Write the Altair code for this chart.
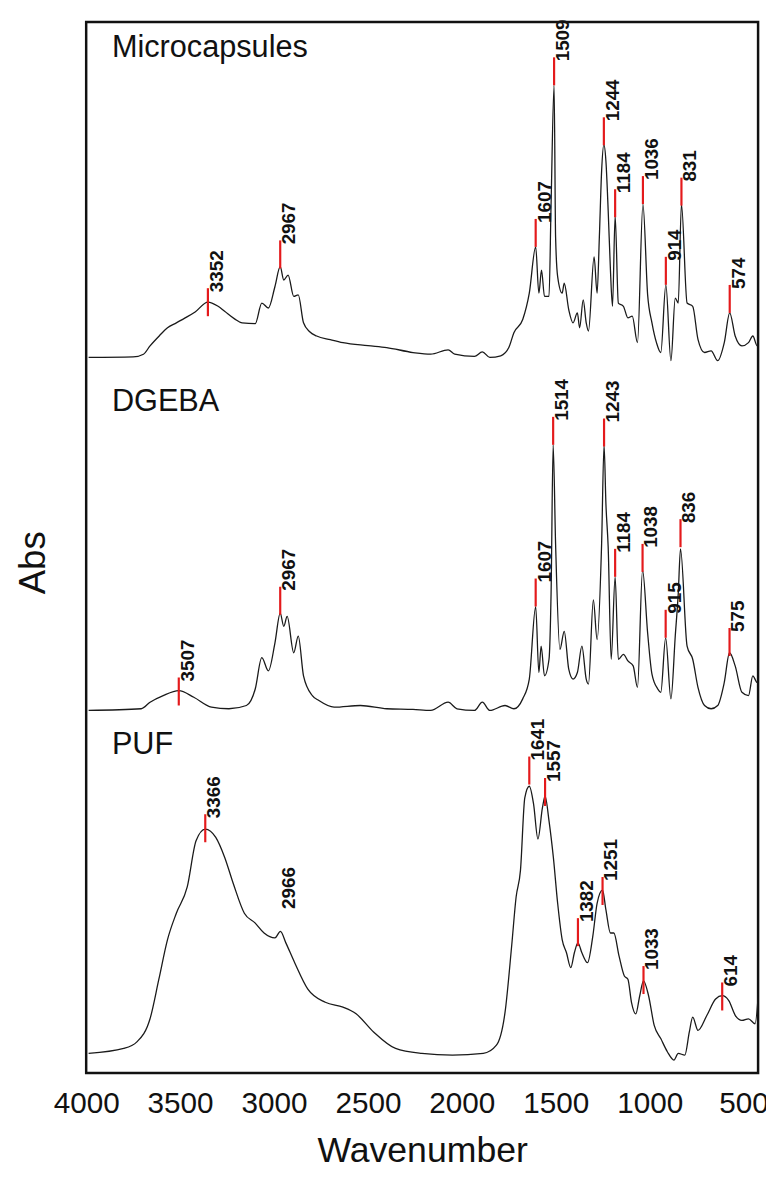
import altair as alt
import pandas as pd

# ---------------- spectra (wavenumber, absorbance in arbitrary units) ----------------
MC_WN = [3987, 3750, 3695, 3660, 3610, 3567, 3520, 3473, 3420, 3352, 3300, 3263, 3210, 3170, 3100, 3065, 3030,
         2995, 2967, 2948, 2925, 2895, 2871, 2843, 2810, 2773, 2700, 2633, 2500, 2400, 2260, 2166, 2073, 2038,
         1933, 1891, 1851, 1793, 1750, 1723, 1676, 1641, 1607, 1590, 1576, 1560, 1536, 1525, 1509, 1501,
         1490, 1466, 1455, 1431, 1408, 1385, 1373, 1354, 1338, 1326, 1296, 1280, 1268, 1256, 1244, 1233,
         1221, 1209, 1198, 1184, 1167, 1140, 1116, 1093, 1065, 1036, 1011, 988, 964, 941, 914, 887, 864,
         848, 831, 801, 771, 743, 708, 673, 638, 603, 574, 545, 509, 474, 451, 428, 416]
MC_ABS = [-0.010, -0.005, 0.023, 0.107, 0.210, 0.290, 0.340, 0.390, 0.450, 0.550, 0.510, 0.457, 0.380, 0.340,
          0.333, 0.540, 0.490, 0.707, 0.907, 0.773, 0.823, 0.607, 0.623, 0.340, 0.250, 0.207, 0.170, 0.140,
          0.110, 0.090, 0.040, 0.023, 0.067, 0.023, 0.000, 0.047, -0.010, 0.007, 0.090, 0.240, 0.373, 0.640,
          1.107, 0.640, 0.873, 0.607, 0.607, 1.540, 2.740, 1.207, 0.807, 0.640, 0.740, 0.473, 0.340, 0.440,
          0.290, 0.573, 0.340, 0.257, 1.007, 0.640, 1.207, 1.873, 2.140, 1.973, 1.473, 0.873, 0.507, 1.423,
          0.540, 0.507, 0.390, 0.407, 0.140, 1.540, 0.623, 0.340, 0.140, 0.040, 0.723, -0.043, 0.590, 0.540,
          1.540, 0.540, 0.507, 0.173, 0.040, 0.057, -0.043, 0.140, 0.440, 0.207, 0.107, 0.140, 0.207, 0.107,
          0.323]

DG_WN = [3987, 3707, 3660, 3590, 3507, 3427, 3333, 3240, 3147, 3100, 3065, 3030, 2995, 2967, 2948,
         2930, 2895, 2871, 2843, 2796, 2761, 2680, 2540, 2400, 2260, 2166, 2073, 2026, 1933, 1891,
         1851, 1770, 1723, 1676, 1641, 1607, 1590, 1578, 1560, 1536, 1525, 1514, 1501, 1478, 1455,
         1431, 1408, 1385, 1361, 1338, 1326, 1300, 1280, 1256, 1243, 1233, 1221, 1205, 1184, 1167,
         1140, 1116, 1088, 1065, 1038, 1011, 988, 957, 941, 915, 887, 864, 848, 836, 801,
         771, 743, 708, 673, 638, 603, 575, 545, 509, 474, 451, 428, 416]
DG_ABS = [0.000, 0.017, 0.083, 0.150, 0.200, 0.133, 0.033, 0.017, 0.050, 0.217, 0.533, 0.400, 0.683, 0.983, 0.850,
          0.950, 0.583, 0.750, 0.350, 0.150, 0.100, 0.033, 0.050, 0.017, 0.010, 0.000, 0.083, 0.017, 0.000, 0.083,
          0.000, 0.050, 0.017, 0.117, 0.317, 1.050, 0.383, 0.650, 0.350, 0.517, 1.183, 2.683, 1.683, 0.617, 0.800,
          0.417, 0.317, 0.383, 0.650, 0.317, 0.267, 1.117, 0.717, 1.683, 2.683, 2.083, 1.650, 0.517, 1.350, 0.517,
          0.567, 0.500, 0.450, 0.233, 1.417, 0.783, 0.367, 0.217, 0.183, 0.733, 0.117, 0.750, 1.183, 1.633, 0.650,
          0.517, 0.233, 0.050, 0.017, 0.050, 0.283, 0.583, 0.450, 0.183, 0.150, 0.350, 0.283, 0.350]

PUF_WN = [3987, 3800, 3730, 3660, 3613, 3567, 3520, 3462, 3415, 3366, 3310, 3263, 3217, 3158, 3100,
          3053, 2995, 2966, 2937, 2890, 2820, 2727, 2633, 2563, 2470, 2353, 2213, 2050, 1886, 1816,
          1770, 1735, 1711, 1688, 1665, 1641, 1618, 1595, 1571, 1557, 1536, 1513, 1490, 1466, 1443,
          1420, 1401, 1382, 1361, 1331, 1303, 1280, 1251, 1233, 1209, 1191, 1163, 1135, 1116, 1097,
          1074, 1053, 1033, 1006, 976, 941, 906, 871, 848, 813, 789, 771, 743, 696, 649,
          614, 579, 544, 509, 474, 439, 420]
PUF_ABS = [0.000, 0.050, 0.117, 0.350, 0.750, 1.150, 1.417, 1.683, 2.150, 2.267, 2.183, 1.983, 1.717, 1.417, 1.317,
           1.217, 1.167, 1.233, 1.117, 0.917, 0.650, 0.517, 0.467, 0.400, 0.217, 0.050, 0.000, -0.017, 0.000, 0.083,
           0.417, 1.083, 1.583, 1.850, 2.583, 2.700, 2.517, 2.167, 2.483, 2.600, 2.350, 1.983, 1.517, 1.150, 1.017,
           0.867, 1.017, 1.117, 1.017, 0.917, 1.183, 1.517, 1.650, 1.450, 1.217, 1.217, 0.983, 0.783, 0.750, 0.517,
           0.400, 0.583, 0.733, 0.583, 0.283, 0.150, 0.017, -0.067, 0.000, -0.017, 0.217, 0.367, 0.233, 0.383, 0.550,
           0.583, 0.533, 0.383, 0.333, 0.350, 0.300, 0.650]

# ---------------- peak annotations ----------------
MC_PEAKS = [3352, 2967, 1607, 1509, 1244, 1184, 1036, 914, 831, 574]
MC_TOPS = [0.690, 1.173, 1.390, 3.023, 2.417, 1.690, 1.823, 1.007, 1.807, 0.723]
MC_TICK = [1, 1, 1, 1, 1, 1, 1, 1, 1, 1]

DG_PEAKS = [3507, 2967, 1607, 1514, 1243, 1184, 1038, 915, 836, 575]
DG_TOPS = [0.333, 1.250, 1.333, 2.967, 2.950, 1.633, 1.683, 1.017, 1.933, 0.833]
DG_TICK = [1, 1, 1, 1, 1, 1, 1, 1, 1, 1]

PUF_PEAKS = [3366, 2966, 1641, 1557, 1382, 1251, 1033, 614]
PUF_TOPS = [2.417, 1.500, 3.000, 2.783, 1.367, 1.783, 0.883, 0.717]
PUF_TICK = [1, 0, 1, 1, 1, 1, 1, 1]

SERIES = ["Microcapsules", "DGEBA", "PUF"]
X_TICKS = [4000, 3500, 3000, 2500, 2000, 1500, 1000, 500]

# layout constants (vertical stacking of the spectra)
OFFSETS = {"Microcapsules": 7.24, "DGEBA": 3.663, "PUF": 0.197}
TICK_LEN = 0.283
TEXT_GAP = 0.05
NAME_Y = 3.03
NAME_X = 3863

FONT = "Liberation Sans"

rows = []
for name, wn, ab in [("Microcapsules", MC_WN, MC_ABS), ("DGEBA", DG_WN, DG_ABS), ("PUF", PUF_WN, PUF_ABS)]:
    for w, a in zip(wn, ab):
        rows.append({"series": name, "wn": w, "abs": a, "y": a + OFFSETS[name]})
curves = pd.DataFrame(rows)

prow = []
for name, pk, tp, tk in [("Microcapsules", MC_PEAKS, MC_TOPS, MC_TICK),
                         ("DGEBA", DG_PEAKS, DG_TOPS, DG_TICK),
                         ("PUF", PUF_PEAKS, PUF_TOPS, PUF_TICK)]:
    for w, t, k in zip(pk, tp, tk):
        off = OFFSETS[name]
        prow.append({"series": name, "wn": w, "label": str(w), "tick": k,
                     "top": t + off, "bottom": t - TICK_LEN + off, "ty": t - TEXT_GAP + off})
peaks = pd.DataFrame(prow)

names = pd.DataFrame({"series": SERIES, "wn": [NAME_X] * 3,
                      "y": [NAME_Y + OFFSETS[s] for s in SERIES]})

xscale = alt.Scale(domain=[423, 4000], reverse=True, nice=False, zero=False)
yscale = alt.Scale(domain=[0, 10.62], nice=False, zero=False)

xaxis = alt.Axis(values=X_TICKS, format="d", labelFontSize=30, labelFont=FONT, labelColor="#111",
                 labelFlush=False, ticks=False, tickSize=0, domain=False, grid=False,
                 labelPadding=40, labelBaseline="alphabetic",
                 title="Wavenumber", titleFont=FONT, titleFontSize=36, titleFontWeight="normal",
                 titleColor="#111", titleY=90, titleBaseline="alphabetic")
yaxis = alt.Axis(labels=False, ticks=False, domain=False, grid=False,
                 title="Abs", titleFont=FONT, titleFontSize=37, titleFontWeight="normal", titleColor="#111",
                 titleAngle=270, titleX=-42, titleY=546, titleAlign="center", titleBaseline="alphabetic")

lines = alt.Chart(curves).mark_line(color="#1a1a1a", strokeWidth=1.3, interpolate="monotone", clip=True).encode(
    x=alt.X("wn:Q", scale=xscale, axis=xaxis),
    y=alt.Y("y:Q", scale=yscale, axis=yaxis),
    detail="series:N",
    order="wn:Q",
)

ticks = alt.Chart(peaks).transform_filter("datum.tick == 1").mark_rule(
    color="#e41a1c", strokeWidth=2.2).encode(
    x="wn:Q", y="bottom:Q", y2="top:Q")

labels = alt.Chart(peaks).mark_text(
    angle=270, align="left", baseline="top", font=FONT, fontSize=19, fontWeight="bold",
    color="#111", dx=1).encode(
    x="wn:Q", y="ty:Q", text="label:N")

series_names = alt.Chart(names).mark_text(
    align="left", baseline="alphabetic", font=FONT, fontSize=31, color="#111").encode(
    x="wn:Q", y="y:Q", text="series:N")

chart = alt.layer(lines, ticks, labels, series_names).properties(
    width=679, height=1062,
    autosize=alt.AutoSizeParams(type="none"),
    padding={"left": 79, "top": 8, "right": 8, "bottom": 96},
).configure_view(stroke="#111", strokeWidth=2.5)

chart.save("out.html", embed_options={"renderer": "svg", "actions": False})
